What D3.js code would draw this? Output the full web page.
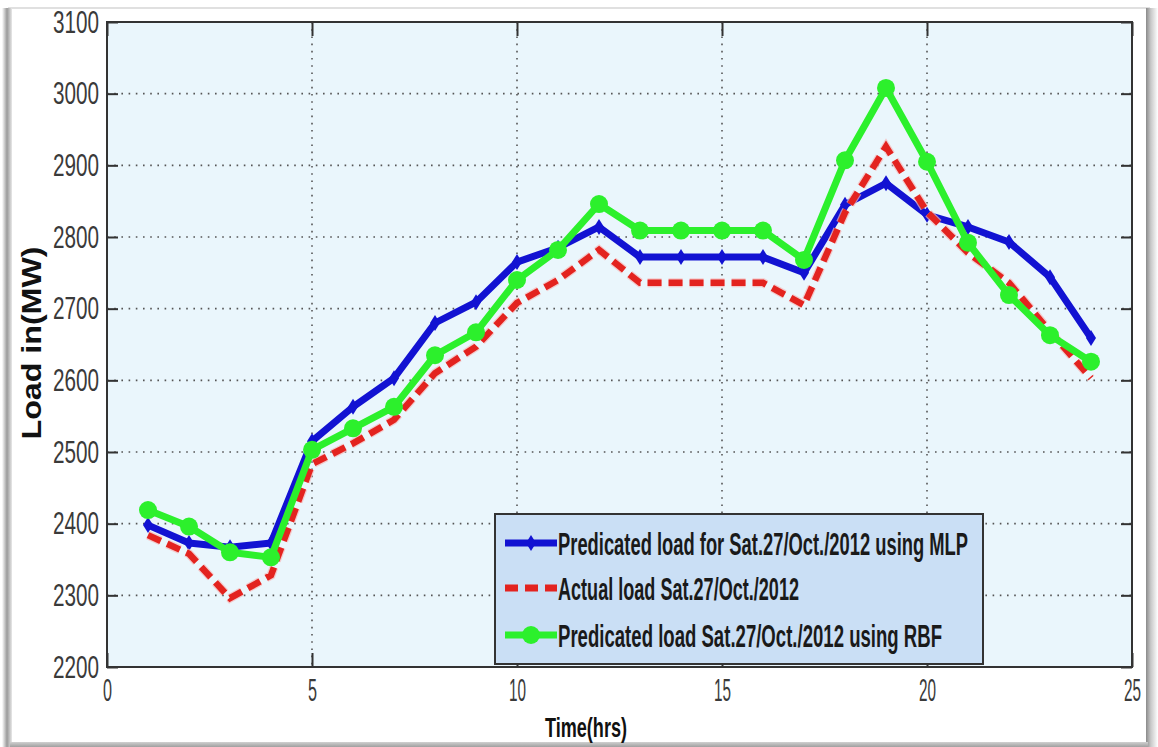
<!DOCTYPE html>
<html>
<head>
<meta charset="utf-8">
<script src="https://cdn.jsdelivr.net/npm/d3@7"></script>
<style>
  html, body { margin: 0; padding: 0; background: #fff; }
  svg { display: block; }
</style>
</head>
<body>
<div id="chart"></div>
<script>
// data
const hours = [1, 2, 3, 4, 5, 6, 7, 8, 9, 10, 11, 12, 13, 14, 15, 16, 17, 18, 19, 20, 21, 22, 23, 24];
const mlpLoad = [2398, 2373, 2367, 2373, 2515, 2563, 2603, 2680, 2709, 2765, 2785, 2814, 2772, 2772, 2772, 2772, 2750, 2845, 2875, 2831, 2814, 2793, 2744, 2659];
const actualLoad = [2384, 2358, 2296, 2328, 2483, 2512, 2545, 2610, 2647, 2708, 2740, 2782, 2736, 2736, 2736, 2736, 2705, 2834, 2926, 2835, 2778, 2736, 2668, 2603];
const rbfLoad = [2419, 2396, 2360, 2353, 2503, 2533, 2563, 2635, 2667, 2740, 2782, 2846, 2809, 2809, 2809, 2809, 2768, 2907, 3008, 2905, 2792, 2719, 2663, 2626];
const xTicks = [0, 5, 10, 15, 20, 25];
const yTicks = [2200, 2300, 2400, 2500, 2600, 2700, 2800, 2900, 3000, 3100];
const legendLabels = [
  "Predicated load for Sat.27/Oct./2012 using MLP",
  "Actual load Sat.27/Oct./2012",
  "Predicated load Sat.27/Oct./2012 using RBF"
];

const width = 1158, height = 747;
const margin = {top: 22, right: 26, bottom: 80, left: 107};
const innerWidth = width - margin.left - margin.right;
const innerHeight = height - margin.top - margin.bottom;

const svg = d3.select("#chart").append("svg")
  .attr("width", width).attr("height", height);

// outer frame with a soft shadow
const defs = svg.append("defs");
function grad(id, x2, y2, stops) {
  const g = defs.append("linearGradient").attr("id", id)
    .attr("x1", 0).attr("y1", 0).attr("x2", x2).attr("y2", y2);
  stops.forEach(s => g.append("stop").attr("offset", s[0]).attr("stop-color", s[1]));
}
grad("shadowL", 1, 0, [[0, "#ffffff"], [0.5, "#9a9a9a"], [1, "#e8e8e8"]]);
grad("shadowR", 1, 0, [[0, "#8a8a8a"], [0.4, "#c8c8c8"], [1, "#ffffff"]]);
grad("shadowB", 0, 1, [[0, "#d0d0d0"], [1, "#a0a0a0"]]);

svg.append("rect").attr("width", width).attr("height", height).attr("fill", "#fff");
svg.append("line").attr("x1", 8).attr("x2", 1150).attr("y1", 8).attr("y2", 8)
  .attr("stroke", "#d6d6d6").attr("stroke-width", 1.5);
svg.append("rect").attr("x", 2).attr("y", 8).attr("width", 10).attr("height", 739).attr("fill", "url(#shadowL)");
svg.append("rect").attr("x", 1146).attr("y", 8).attr("width", 12).attr("height", 739).attr("fill", "url(#shadowR)");
svg.append("rect").attr("x", 10).attr("y", 742).attr("width", 1138).attr("height", 5).attr("fill", "url(#shadowB)");

const xScale = d3.scaleLinear().domain([0, 25]).range([0, innerWidth]);
const yScale = d3.scaleLinear().domain([2200, 3100]).range([innerHeight, 0]);

const g = svg.append("g").attr("transform", `translate(${margin.left}, ${margin.top})`);

g.append("rect").attr("width", innerWidth).attr("height", innerHeight).attr("fill", "#eaf6fc");

// dotted grid
g.append("g").selectAll("line")
  .data(xTicks.slice(1, -1))
  .enter().append("line")
  .attr("x1", d => xScale(d)).attr("x2", d => xScale(d))
  .attr("y1", 0).attr("y2", innerHeight)
  .attr("stroke", "#555").attr("stroke-width", 1.6).attr("stroke-dasharray", "1.6,5.6");
g.append("g").selectAll("line")
  .data(yTicks.slice(1, -1))
  .enter().append("line")
  .attr("x1", 0).attr("x2", innerWidth)
  .attr("y1", d => yScale(d)).attr("y2", d => yScale(d))
  .attr("stroke", "#555").attr("stroke-width", 1.6).attr("stroke-dasharray", "1.6,5.6");

// axes with ticks pointing inwards on all four sides
const yAxis = g.append("g")
  .call(d3.axisLeft(yScale).tickValues(yTicks).tickFormat(d3.format("d")).tickSize(-11).tickPadding(8));
const xAxis = g.append("g").attr("transform", `translate(0, ${innerHeight})`)
  .call(d3.axisBottom(xScale).tickValues(xTicks).tickFormat(d3.format("d")).tickSize(-14).tickPadding(11));
g.append("g").attr("transform", `translate(${innerWidth}, 0)`)
  .call(d3.axisRight(yScale).tickValues(yTicks).tickSize(-11).tickFormat(""));
g.append("g").call(d3.axisTop(xScale).tickValues(xTicks).tickSize(-14).tickFormat(""));

g.selectAll(".domain").remove();
g.selectAll(".tick line").attr("stroke", "#333").attr("stroke-width", 2);

yAxis.selectAll("text")
  .attr("font-family", "Liberation Sans, Arial, sans-serif")
  .attr("font-size", 32).attr("fill", "#3a3a3a")
  .attr("textLength", 46).attr("lengthAdjust", "spacingAndGlyphs");
xAxis.selectAll("text")
  .attr("font-family", "Liberation Sans, Arial, sans-serif")
  .attr("font-size", 32).attr("fill", "#3a3a3a")
  .attr("textLength", d => String(d).length * 8 + 1).attr("lengthAdjust", "spacingAndGlyphs");

g.append("rect").attr("width", innerWidth).attr("height", innerHeight)
  .attr("fill", "none").attr("stroke", "#333").attr("stroke-width", 2);

// series
const lineGen = d3.line()
  .x((d, i) => xScale(hours[i]))
  .y(d => yScale(d));

function diamond(sel, cx, cy, color) {
  sel.append("path")
    .attr("d", `M${cx},${cy - 8} L${cx + 5},${cy} L${cx},${cy + 8} L${cx - 5},${cy} Z`)
    .attr("fill", color);
}

g.append("path").datum(mlpLoad)
  .attr("d", lineGen).attr("fill", "none")
  .attr("stroke", "#1212d2").attr("stroke-width", 7).attr("stroke-linejoin", "round");
mlpLoad.forEach((d, i) => diamond(g, xScale(hours[i]), yScale(d), "#1212d2"));

g.append("path").datum(actualLoad)
  .attr("d", lineGen).attr("fill", "none")
  .attr("stroke", "#f6b8b8").attr("stroke-width", 9).attr("stroke-dasharray", "14,7").attr("opacity", 0.7);
g.append("path").datum(actualLoad)
  .attr("d", lineGen).attr("fill", "none")
  .attr("stroke", "#e3231f").attr("stroke-width", 6.5).attr("stroke-dasharray", "14,7");

g.append("path").datum(rbfLoad)
  .attr("d", lineGen).attr("fill", "none")
  .attr("stroke", "#2cf02c").attr("stroke-width", 7).attr("stroke-linejoin", "round");
g.selectAll(".rbfDot")
  .data(rbfLoad)
  .enter().append("circle")
  .attr("cx", (d, i) => xScale(hours[i]))
  .attr("cy", d => yScale(d))
  .attr("r", 9)
  .attr("fill", "#2cf02c");

// legend
const legend = svg.append("g").attr("transform", "translate(495, 514)");
legend.append("rect").attr("width", 488).attr("height", 150)
  .attr("fill", "#cadff5").attr("stroke", "#333").attr("stroke-width", 2);

const rowY = [29, 74, 121];
legend.append("line").attr("x1", 10).attr("x2", 62).attr("y1", rowY[0]).attr("y2", rowY[0])
  .attr("stroke", "#1212d2").attr("stroke-width", 7);
diamond(legend, 36, rowY[0], "#1212d2");
legend.append("line").attr("x1", 10).attr("x2", 62).attr("y1", rowY[1]).attr("y2", rowY[1])
  .attr("stroke", "#e3231f").attr("stroke-width", 7).attr("stroke-dasharray", "13,7");
legend.append("line").attr("x1", 10).attr("x2", 62).attr("y1", rowY[2]).attr("y2", rowY[2])
  .attr("stroke", "#2cf02c").attr("stroke-width", 7);
legend.append("circle").attr("cx", 36).attr("cy", rowY[2]).attr("r", 9).attr("fill", "#2cf02c");

const legendWidths = [410, 241, 384];
legend.selectAll(".lab")
  .data(legendLabels)
  .enter().append("text")
  .attr("x", 63)
  .attr("y", (d, i) => rowY[i] + 12)
  .attr("font-family", "Liberation Sans, Arial, sans-serif")
  .attr("font-weight", "bold").attr("font-size", 32).attr("fill", "#1a1a1a")
  .attr("textLength", (d, i) => legendWidths[i]).attr("lengthAdjust", "spacingAndGlyphs")
  .text(d => d);

// axis titles
svg.append("text")
  .attr("x", 586).attr("y", 737)
  .attr("text-anchor", "middle")
  .attr("font-family", "Liberation Sans, Arial, sans-serif")
  .attr("font-weight", "bold").attr("font-size", 28).attr("fill", "#111")
  .attr("textLength", 82).attr("lengthAdjust", "spacingAndGlyphs")
  .text("Time(hrs)");

svg.append("text")
  .attr("transform", "translate(41, 343) rotate(-90)")
  .attr("text-anchor", "middle")
  .attr("font-family", "Liberation Sans, Arial, sans-serif")
  .attr("font-weight", "bold").attr("font-size", 27).attr("fill", "#111")
  .attr("textLength", 193).attr("lengthAdjust", "spacingAndGlyphs")
  .text("Load in(MW)");
</script>
</body>
</html>
